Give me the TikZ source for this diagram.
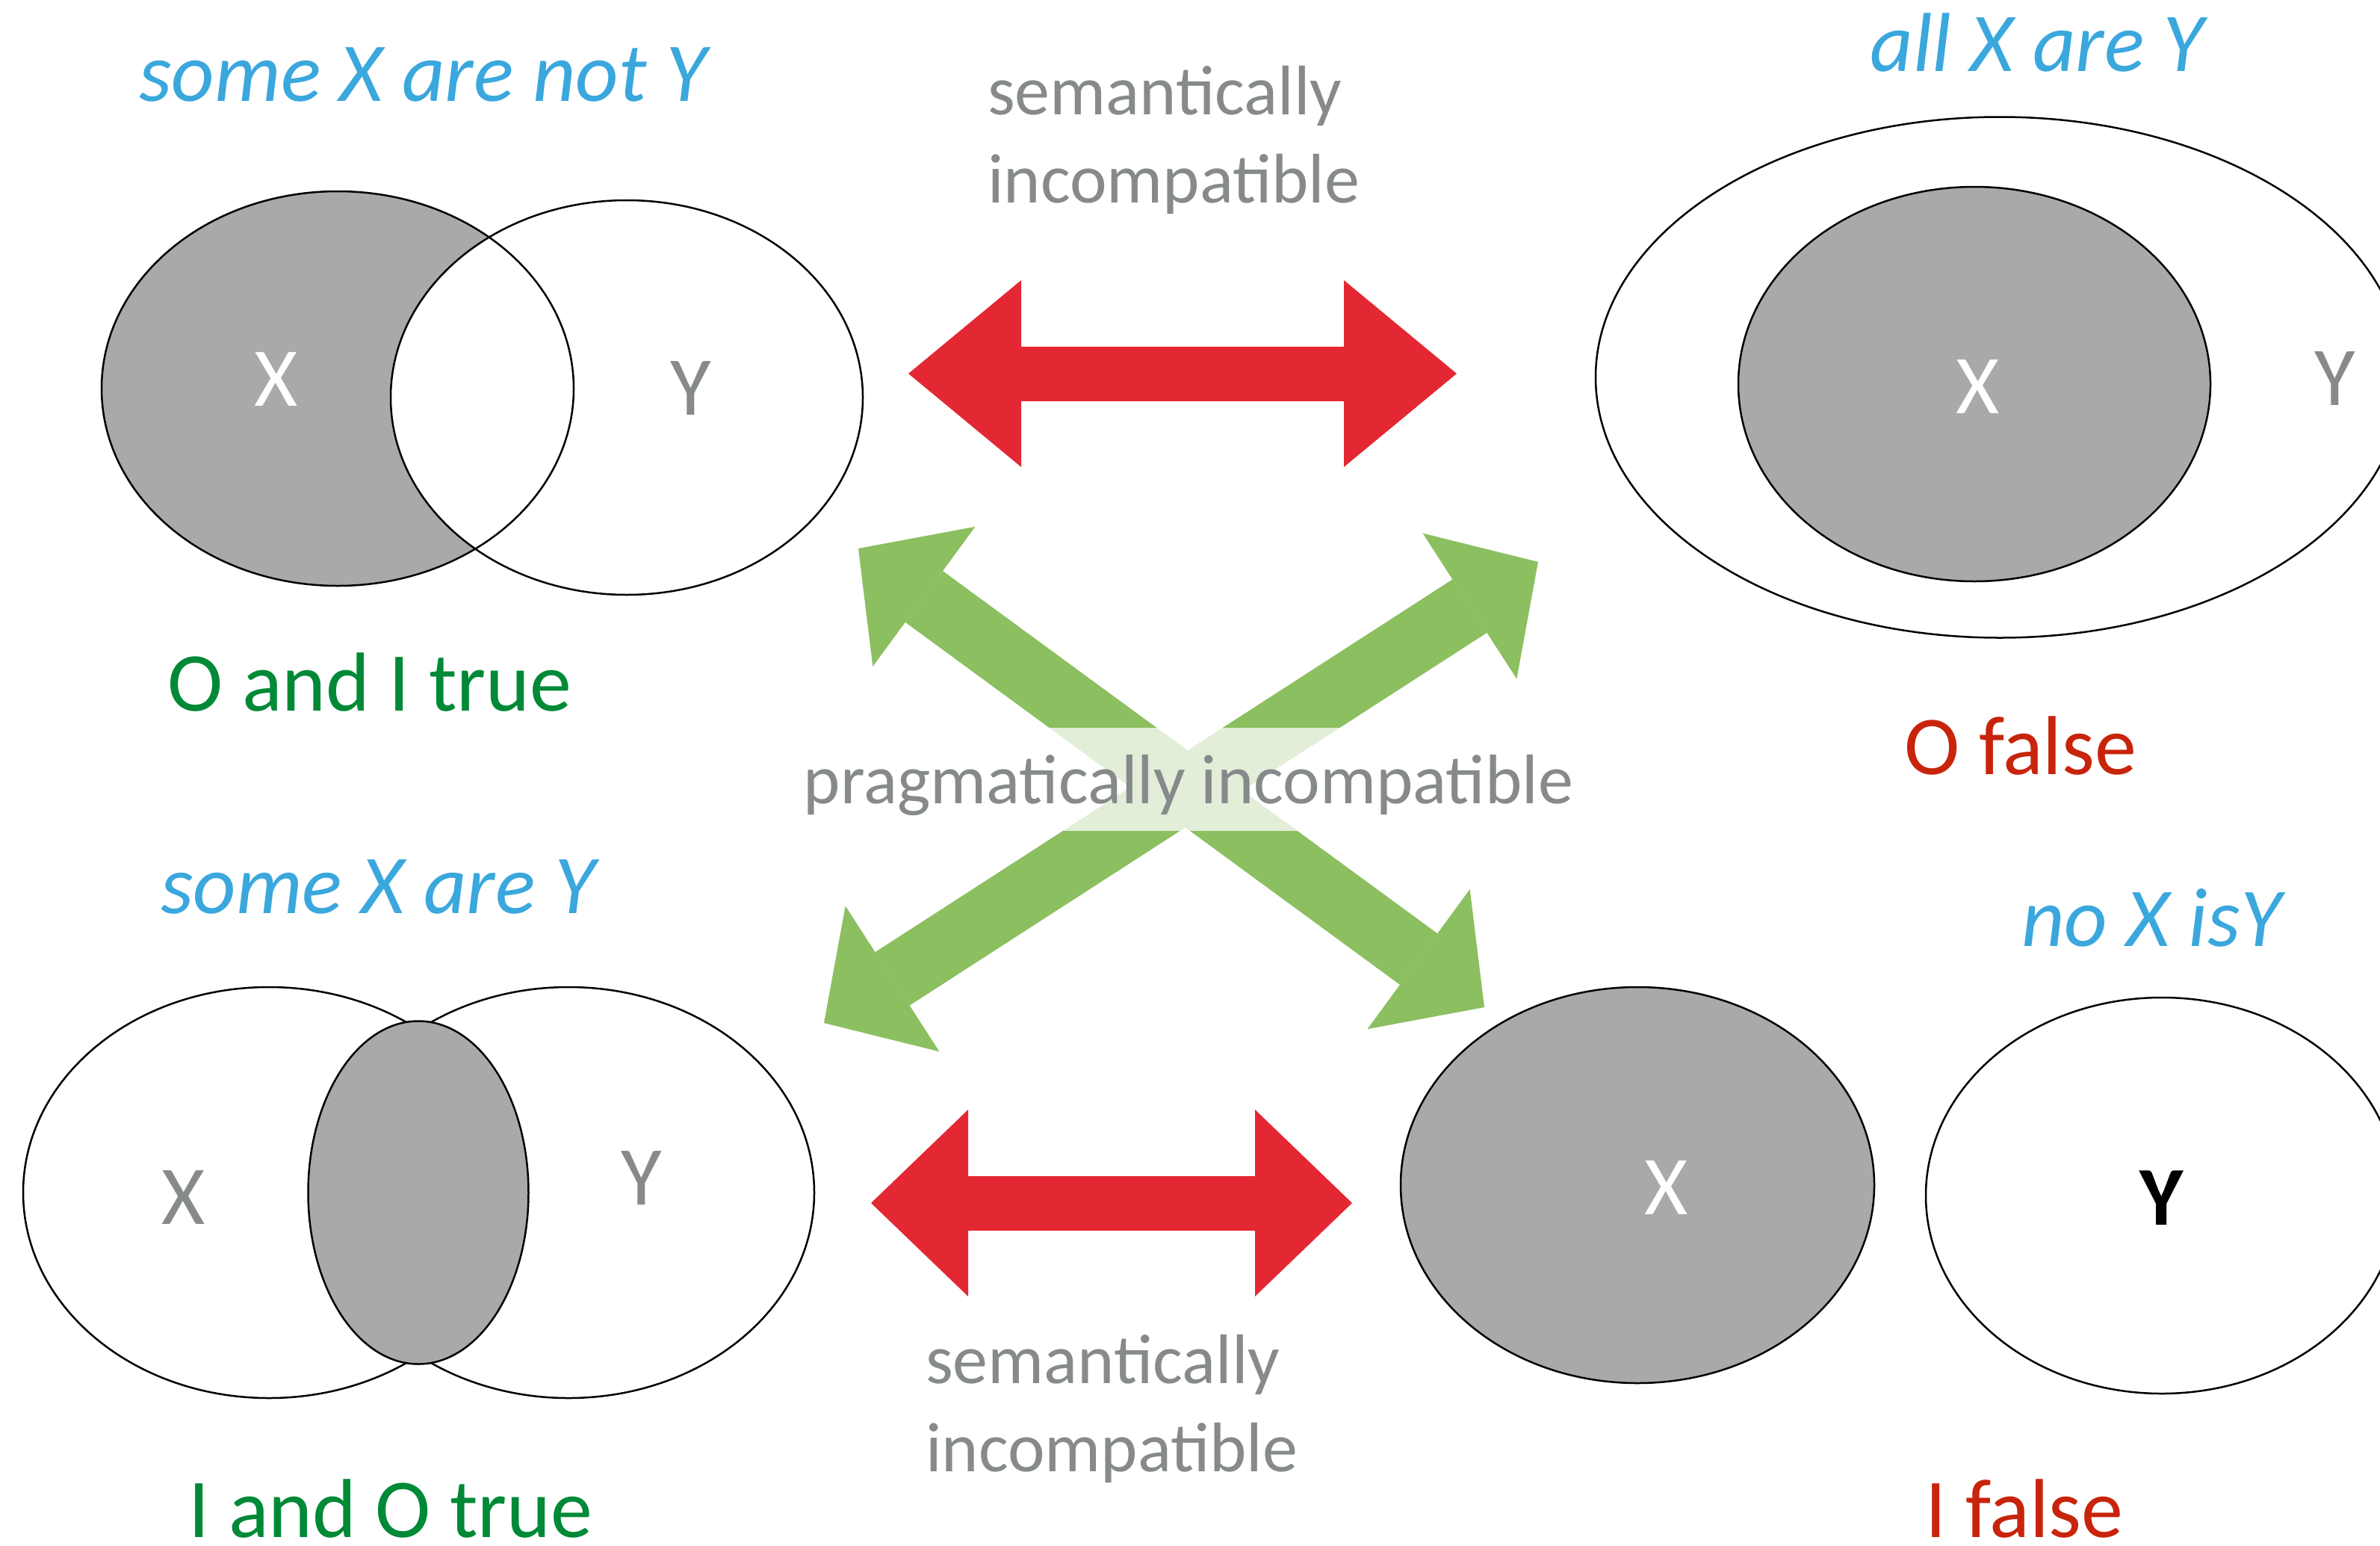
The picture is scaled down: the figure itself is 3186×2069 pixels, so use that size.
\documentclass[tikz,border=0pt]{standalone}
\usepackage{fontspec}
\setmainfont{Carlito}
\usepackage{tikz}
\usetikzlibrary{arrows.meta,shapes.geometric}

\definecolor{setgray}{RGB}{168,169,168}
\definecolor{notegray}{RGB}{134,138,138}
\definecolor{claimblue}{RGB}{58,167,221}
\definecolor{truegreen}{RGB}{0,137,54}
\definecolor{falsered}{RGB}{200,36,12}
\definecolor{semred}{RGB}{227,40,51}
\definecolor{pragreen}{RGB}{140,191,96}

\begin{document}
\begin{tikzpicture}[x=1pt,y=-1pt,
    venn/.style={ellipse,inner sep=0pt,minimum width=632pt,minimum height=528pt},
    rim/.style={draw,line width=2.5pt},
    setlabel/.style={inner sep=0pt,font=\fontsize{112}{134}\selectfont},
    claim/.style={anchor=base,inner sep=0pt,text=claimblue,font=\fontsize{112}{134}\selectfont\itshape},
    verdict/.style={anchor=base,inner sep=0pt,font=\fontsize{112}{134}\selectfont},
    note/.style={anchor=base west,inner sep=0pt,text=notegray,font=\fontsize{94}{118}\selectfont},
    semarrow/.style={draw=semred,line width=73pt,
        {Triangle[length=#1,width=250pt,line width=0pt]}-{Triangle[length=#1,width=250pt,line width=0pt]}},
    pragarrow/.style={draw=pragreen,line width=85pt,
        {Triangle[length=109pt,width=232pt,line width=0pt]}-{Triangle[length=109pt,width=232pt,line width=0pt]}}]
        \clip (0,0) rectangle (3186,2069);

        % some X are not Y
        \node[venn, fill=setgray] (oX) at (452,520) {};
        \node[venn, rim, fill=white] (oY) at (839,532) {};
        \node[venn, rim] (oXrim) at (oX) {};
        \node[setlabel, text=white] (oXl) at (370,508) {X};
        \node[setlabel, text=notegray] (oYl) at (925,520) {Y};

        % all X are Y
        \node[venn, rim, fill=white, minimum width=1082pt, minimum height=697pt] (aY) at (2677,505) {};
        \node[venn, rim, fill=setgray] (aX) at (2643,514) {};
        \node[setlabel, text=white] (aXl) at (2648,518) {X};
        \node[setlabel, text=notegray] (aYl) at (3126,507) {Y};

        % some X are Y
        \node[venn, rim, fill=white, minimum width=658pt, minimum height=550pt] (iX) at (360,1596) {};
        \node[venn, rim, fill=white, minimum width=658pt, minimum height=550pt] (iY) at (761,1596) {};
        \node[venn, rim, fill=setgray, minimum width=295pt, minimum height=459pt] (iXY) at (560,1596) {};
        \node[setlabel, text=notegray] (iXl) at (246,1603) {X};
        \node[setlabel, text=notegray] (iYl) at (859,1577) {Y};

        % no X is Y
        \node[venn, rim, fill=setgray, minimum width=634pt, minimum height=530pt] (nX) at (2192,1586) {};
        \node[venn, rim, fill=white, minimum height=530pt] (nY) at (2894,1600) {};
        \node[setlabel, text=white] (nXl) at (2231,1590) {X};
        \node[setlabel, font=\fontsize{112}{134}\selectfont\bfseries] (nYl) at (2894,1603) {Y};

        % arrow ends
        \coordinate (semTopL) at (1216,500);
        \coordinate (semTopR) at (1950,500);
        \coordinate (semBotL) at (1166,1610);
        \coordinate (semBotR) at (1810,1610);
        \coordinate (pragNW) at (1149,734);
        \coordinate (pragSE) at (1987,1348);
        \coordinate (pragNE) at (2059,752);
        \coordinate (pragSW) at (1103,1369);

        \draw[semarrow=151pt] (semTopL) -- (semTopR);
        \draw[semarrow=130pt] (semBotL) -- (semBotR);
        \draw[pragarrow] (pragNW) -- (pragSE);
        \draw[pragarrow] (pragNE) -- (pragSW);

        \node[note, anchor=base, fill=white, fill opacity=0.75, text opacity=1,
              text height=101pt, text depth=37pt, inner xsep=8pt] (prag) at (1591,1075) {pragmatically incompatible};

        \node[note] (semTopA) at (1322,153) {semantically};
        \node[note] (semTopB) at (1322,271) {incompatible};
        \node[note] (semBotA) at (1239,1851) {semantically};
        \node[note] (semBotB) at (1239,1969) {incompatible};

        % captions
        \node[claim] (someNot) at (566,135) {some X are not Y};
        \node[claim] (allAre) at (2727,95) {all X are Y};
        \node[claim] (someAre) at (506,1222) {some X are Y};
        \node[claim] (noIs) at (2880,1266) {no X isY};

        \node[verdict, text=truegreen] (trueOI) at (495,951) {O and I true};
        \node[verdict, text=falsered] (falseO) at (2705,1036) {O false};
        \node[verdict, text=truegreen] (trueIO) at (523,2057) {I and O true};
        \node[verdict, text=falsered] (falseI) at (2710,2057) {I false};
      \end{tikzpicture}
\end{document}
